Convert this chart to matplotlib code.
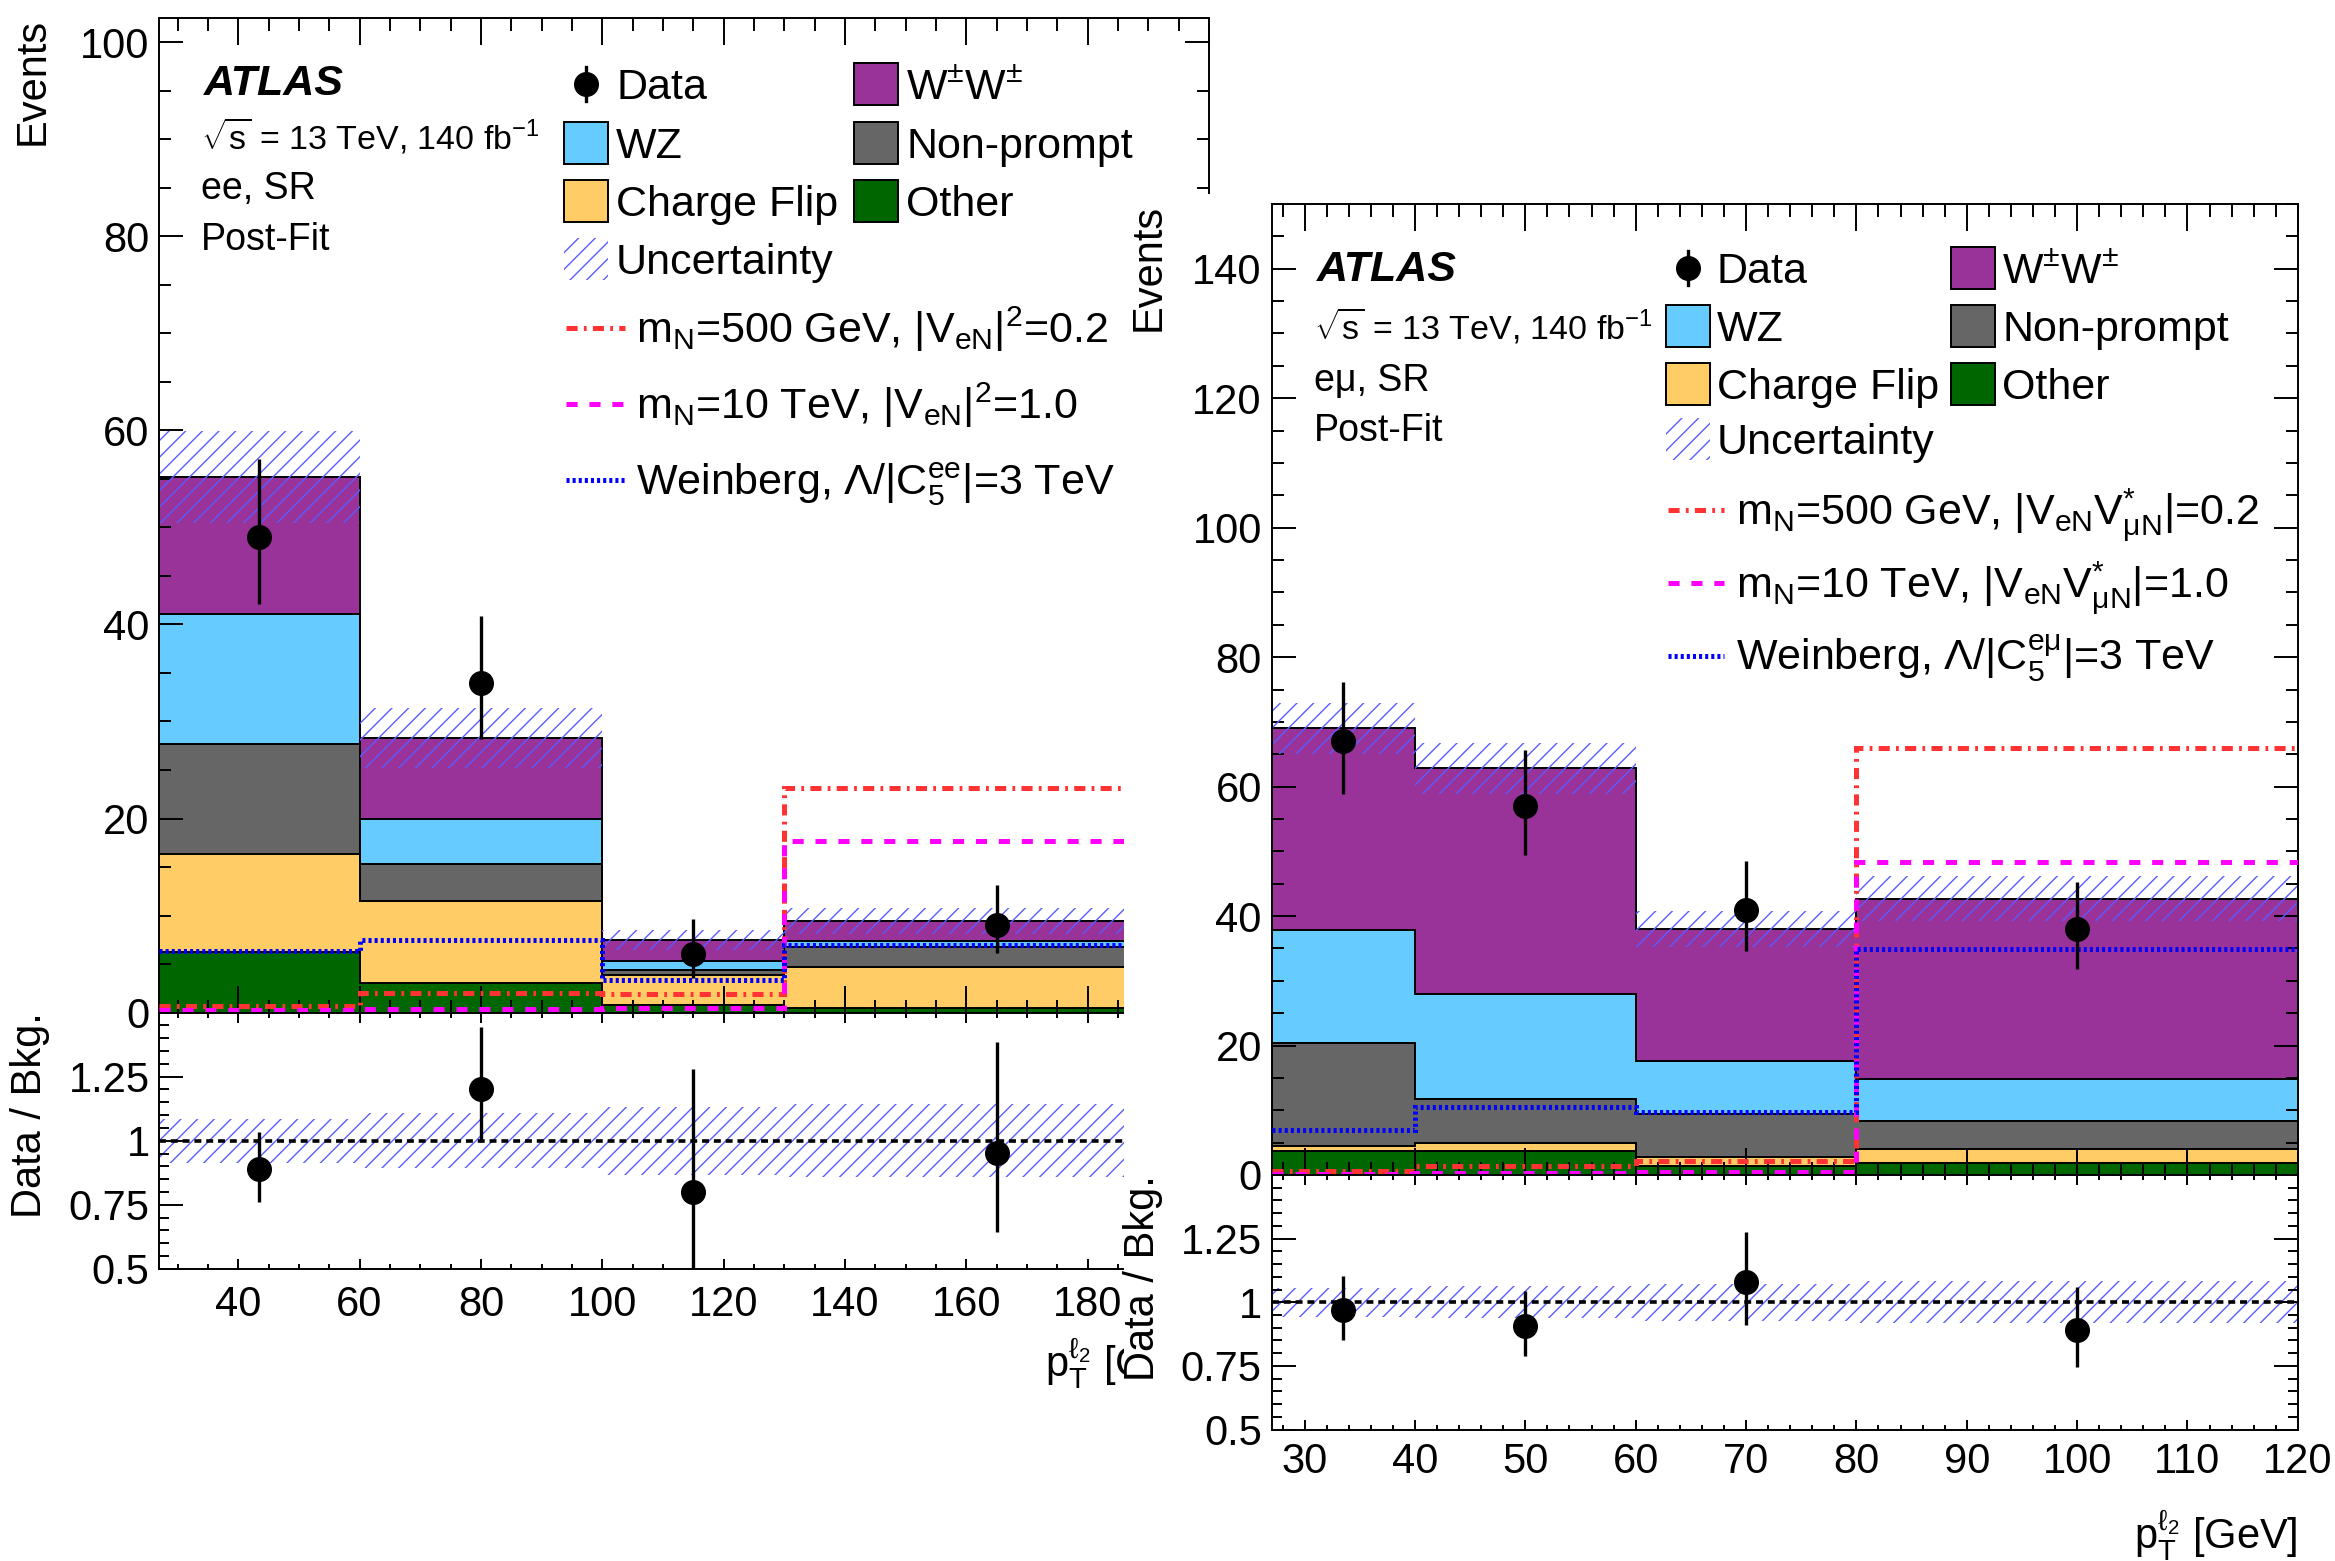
import numpy as np
import matplotlib
matplotlib.use("Agg")
import matplotlib.pyplot as plt
from matplotlib.patches import Rectangle
from matplotlib.lines import Line2D
from matplotlib.ticker import MultipleLocator

W, H = 2335, 1561

# ---- ee channel (left) ----
ee_edges = [27, 60, 100, 130, 200]
ee_other = [6.2, 3.1, 0.8, 0.5]
ee_chflip = [10.1, 8.4, 3.1, 4.15]
ee_nonprompt = [11.4, 3.8, 0.5, 2.15]
ee_wz = [13.4, 4.7, 0.95, 0.6]
ee_wpwp = [14.1, 8.3, 2.15, 2.05]
ee_unc = [4.7, 3.05, 1.0, 1.35]
ee_data = [49, 34, 6, 9]
ee_data_lo = [42.1, 28.2, 3.6, 6.1]
ee_data_hi = [57.0, 40.9, 9.6, 13.1]
ee_sig500 = [0.7, 2.0, 1.9, 23.1]
ee_sig10 = [0.27, 0.37, 0.44, 17.7]
ee_weinberg = [6.3, 7.5, 3.35, 7.0]

# ---- e-mu channel (right) ----
em_edges = [27, 40, 60, 80, 120]
em_other = [3.75, 3.75, 1.45, 1.8]
em_chflip = [0.8, 1.15, 1.4, 2.15]
em_nonprompt = [15.85, 6.85, 6.55, 4.45]
em_wz = [17.5, 16.15, 8.2, 6.4]
em_wpwp = [31.1, 34.9, 20.4, 27.9]
em_unc = [3.9, 3.9, 2.8, 3.5]
em_data = [67, 57, 41, 38]
em_data_lo = [58.8, 49.5, 34.6, 31.9]
em_data_hi = [76.2, 65.6, 48.5, 45.2]
em_sig500 = [0.67, 1.4, 2.15, 65.9]
em_sig10 = [0.2, 0.3, 0.45, 48.4]
em_weinberg = [6.95, 10.55, 9.7, 34.9]

plt.rcParams["font.family"] = ["Liberation Sans", "DejaVu Sans"]
plt.rcParams["mathtext.fontset"] = "custom"
plt.rcParams["mathtext.rm"] = "Liberation Sans"
plt.rcParams["mathtext.it"] = "Liberation Sans:italic"
plt.rcParams["mathtext.bf"] = "Liberation Sans:bold"
plt.rcParams["mathtext.sf"] = "Liberation Sans"
plt.rcParams["mathtext.default"] = "regular"
plt.rcParams["hatch.linewidth"] = 1.0
plt.rcParams["lines.scale_dashes"] = False

C_WW = "#993399"
C_WZ = "#66ccff"
C_NP = "#666666"
C_CF = "#ffcc66"
C_OT = "#006600"
C_HATCH = "#5c5cff"
C_RED = "#ff3333"
C_MAG = "#ff00ff"
C_BLUE = "#0000ff"
LS_RED = (0, (8, 4.5, 2, 4.5))
LS_MAG = (0, (8, 8.5))
LS_BLUE = (0, (2.2, 2.2))
HATCH = "//"


def frac_rect(x0, y0, x1, y1):
    # pixel box (from top-left) -> figure fraction [l, b, w, h]
    return [x0 / W, 1 - y1 / H, (x1 - x0) / W, (y1 - y0) / H]


def fxy(x, y):
    return x / W, 1 - y / H


def style_axes(a, ymin_len=8.5):
    a.tick_params(which="both", direction="in", top=True, right=True,
                  width=1.4, labelsize=30)
    a.tick_params(axis="y", which="major", length=17, pad=7)
    a.tick_params(axis="y", which="minor", length=ymin_len)
    for s in a.spines.values():
        s.set_linewidth(1.4)


def draw_panel(fig, main_px, ratio_px, edges, comps, unc, data, lo, hi,
               signals, ymax, xmaj, xminor, zorder, ylab_x, rylab_x,
               xlab_y, xpad):
    ax = fig.add_axes(frac_rect(*main_px))
    rax = fig.add_axes(frac_rect(*ratio_px), sharex=ax)
    ax.set_zorder(zorder)
    rax.set_zorder(zorder)

    edges = np.asarray(edges, float)
    base = np.zeros(len(edges) - 1)
    for vals, col in comps:
        top = base + np.asarray(vals, float)
        ax.stairs(top, edges, baseline=base, fill=True, facecolor=col,
                  linewidth=0, zorder=1)
        ax.stairs(top, edges, baseline=None, color="k", linewidth=1.4,
                  zorder=1.5)
        base = top
    total = base
    unc = np.asarray(unc, float)
    ax.stairs(total + unc, edges, baseline=total - unc, fill=True,
              facecolor="none", edgecolor=C_HATCH, hatch=HATCH, linewidth=0,
              zorder=2)
    for vals, col, ls in signals:
        ax.stairs(vals, edges, baseline=None, color=col, linewidth=3.6,
                  linestyle=ls, zorder=3)

    centers = 0.5 * (edges[:-1] + edges[1:])
    data = np.asarray(data, float)
    lo = np.asarray(lo, float)
    hi = np.asarray(hi, float)
    ax.errorbar(centers, data, yerr=[data - lo, hi - data], fmt="o",
                color="k", ms=17, elinewidth=2.4, capsize=0, zorder=4)

    # ratio
    rax.stairs(1 + unc / total, edges, baseline=1 - unc / total, fill=True,
               facecolor="none", edgecolor=C_HATCH, hatch=HATCH, linewidth=0,
               zorder=1)
    rax.axhline(1, color="k", linewidth=2.6, linestyle=(0, (5, 3.5)),
                zorder=2)
    r = data / total
    rax.errorbar(centers, r, yerr=[(data - lo) / total, (hi - data) / total],
                 fmt="o", color="k", ms=17, elinewidth=2.4, capsize=0,
                 zorder=4)

    ax.set_xlim(edges[0], edges[-1])
    ax.set_ylim(0, ymax)
    rax.set_ylim(0.5, 1.5)

    style_axes(ax)
    style_axes(rax, ymin_len=7.5)
    ax.xaxis.set_major_locator(MultipleLocator(xmaj))
    ax.xaxis.set_minor_locator(MultipleLocator(xminor))
    ax.set_yticks(np.arange(0, ymax, 20))
    ax.yaxis.set_minor_locator(MultipleLocator(5))
    ax.tick_params(axis="x", which="major", length=19.5)
    ax.tick_params(axis="x", which="minor", length=9.5)
    ax.tick_params(axis="x", labelbottom=False)

    rax.set_yticks([0.5, 0.75, 1, 1.25], labels=["0.5", "0.75", "1", "1.25"])
    rax.yaxis.set_minor_locator(MultipleLocator(0.05))
    rax.tick_params(axis="x", which="major", length=7.2, pad=xpad)
    rax.tick_params(axis="x", which="minor", length=3.6)

    ax.set_ylabel("Events", loc="top", fontsize=30)
    ax.yaxis.set_label_coords(ylab_x, 1)
    rax.set_ylabel("Data / Bkg.", loc="top", fontsize=30)
    rax.yaxis.set_label_coords(rylab_x, 1)
    rax.set_xlabel(r"p$_{\rm T}^{\ell_{2}}$ [GeV]", loc="right", fontsize=30)
    rax.xaxis.set_label_coords(1, xlab_y)
    return ax, rax


def draw_legend(fig, info_x, info_ys, channel, c1, c2, txt_off, rows,
                line_x0, line_x1, line_txt_x, line_ys, line_labels):
    z = 5
    fs = 31
    fig.text(*fxy(info_x + 3, info_ys[0] + 15), "ATLAS", fontsize=31,
             fontweight="bold", fontstyle="italic", va="baseline", zorder=z)
    fig.text(*fxy(info_x, info_ys[1] + 13),
             r"$\sqrt{s}$ = 13 TeV, 140 fb$^{-1}$", fontsize=24.5,
             va="baseline", zorder=z)
    fig.text(*fxy(info_x, info_ys[2] + 13), channel, fontsize=27,
             va="baseline", zorder=z)
    fig.text(*fxy(info_x, info_ys[3] + 13), "Post-Fit", fontsize=27,
             va="baseline", zorder=z)

    bw, bh = 44, 41
    # data entry
    dx, dy = fxy(c1 + 22, rows[0])
    fig.add_artist(Line2D([dx, dx], [fxy(0, rows[0] + 17)[1],
                                     fxy(0, rows[0] - 17)[1]],
                          transform=fig.transFigure, color="k", lw=2.4,
                          zorder=z))
    fig.add_artist(Line2D([dx], [dy], marker="o", ms=17, color="k",
                          transform=fig.transFigure, zorder=z))
    fig.text(*fxy(c1 + txt_off, rows[0] + 15), "Data", fontsize=fs,
             va="baseline", zorder=z)

    boxes = [
        (c2, rows[0], C_WW, r"W$^{\pm}$W$^{\pm}$"),
        (c1, rows[1], C_WZ, "WZ"),
        (c2, rows[1], C_NP, "Non-prompt"),
        (c1, rows[2], C_CF, "Charge Flip"),
        (c2, rows[2], C_OT, "Other"),
    ]
    for bx, by, col, lab in boxes:
        fig.add_artist(Rectangle(fxy(bx, by + bh / 2), bw / W, bh / H,
                                 transform=fig.transFigure, facecolor=col,
                                 edgecolor="k", lw=1.4, zorder=z))
        fig.text(*fxy(bx + txt_off, by + 15), lab, fontsize=fs,
                 va="baseline", zorder=z)
    fig.add_artist(Rectangle(fxy(c1, rows[3] + bh / 2), bw / W, bh / H,
                             transform=fig.transFigure, facecolor="none",
                             edgecolor=C_HATCH, hatch=HATCH, lw=0, zorder=z))
    fig.text(*fxy(c1 + txt_off, rows[3] + 15), "Uncertainty", fontsize=fs,
             va="baseline", zorder=z)

    styles = [(C_RED, LS_RED), (C_MAG, LS_MAG), (C_BLUE, LS_BLUE)]
    for (col, ls), ly, lab in zip(styles, line_ys, line_labels):
        x0, yy = fxy(line_x0, ly)
        x1, _ = fxy(line_x1, ly)
        fig.add_artist(Line2D([x0, x1], [yy, yy], color=col, lw=3.6,
                              linestyle=ls, transform=fig.transFigure,
                              zorder=z))
        fig.text(*fxy(line_txt_x, ly + 15), lab, fontsize=fs,
                 va="baseline", zorder=z)


fig = plt.figure(figsize=(W / 100, H / 100), dpi=100)

# left panel (drawn underneath)
draw_panel(
    fig, (159.3, 17.9, 1209, 1012.6), (159.3, 1012.6, 1209, 1268.8),
    ee_edges,
    [(ee_other, C_OT), (ee_chflip, C_CF), (ee_nonprompt, C_NP),
     (ee_wz, C_WZ), (ee_wpwp, C_WW)],
    ee_unc, ee_data, ee_data_lo, ee_data_hi,
    [(ee_sig500, C_RED, LS_RED), (ee_sig10, C_MAG, LS_MAG),
     (ee_weinberg, C_BLUE, LS_BLUE)],
    ymax=102.5, xmaj=20, xminor=5, zorder=0,
    ylab_x=-0.102, rylab_x=-0.104, xlab_y=-0.262, xpad=12,
)

# white canvas of the right panel covering the left one
fig.add_artist(Rectangle(fxy(1124, H), (W - 1124) / W, (H - 193.6) / H,
                         transform=fig.transFigure, facecolor="white",
                         edgecolor="none", zorder=1))

draw_panel(
    fig, (1271.5, 204, 2297.8, 1175), (1271.5, 1175, 2297.8, 1429.6),
    em_edges,
    [(em_other, C_OT), (em_chflip, C_CF), (em_nonprompt, C_NP),
     (em_wz, C_WZ), (em_wpwp, C_WW)],
    em_unc, em_data, em_data_lo, em_data_hi,
    [(em_sig500, C_RED, LS_RED), (em_sig10, C_MAG, LS_MAG),
     (em_weinberg, C_BLUE, LS_BLUE)],
    ymax=150, xmaj=10, xminor=2, zorder=2,
    ylab_x=-0.100, rylab_x=-0.106, xlab_y=-0.308, xpad=9,
)

draw_legend(
    fig, 201, [80, 137, 186, 237], "ee, SR", 564, 854, 52,
    [84, 143, 201, 259], 566, 625, 636, [328, 404, 480],
    [r"m$_{\rm N}$=500 GeV, |V$_{\rm eN}$|$^{2}$=0.2",
     r"m$_{\rm N}$=10 TeV, |V$_{\rm eN}$|$^{2}$=1.0",
     r"Weinberg, $\Lambda$/|C$_{5}^{\rm ee}$|=3 TeV"],
)
draw_legend(
    fig, 1314, [266, 326, 378, 428], "e\u03bc, SR", 1666, 1951, 51,
    [268, 326, 384, 439], 1668, 1724, 1736, [510, 583, 656],
    [r"m$_{\rm N}$=500 GeV, |V$_{\rm eN}$V$^{*}_{\rm \mu N}$|=0.2",
     r"m$_{\rm N}$=10 TeV, |V$_{\rm eN}$V$^{*}_{\rm \mu N}$|=1.0",
     r"Weinberg, $\Lambda$/|C$_{5}^{\rm e\mu}$|=3 TeV"],
)

fig.savefig("out.png", dpi=100)
